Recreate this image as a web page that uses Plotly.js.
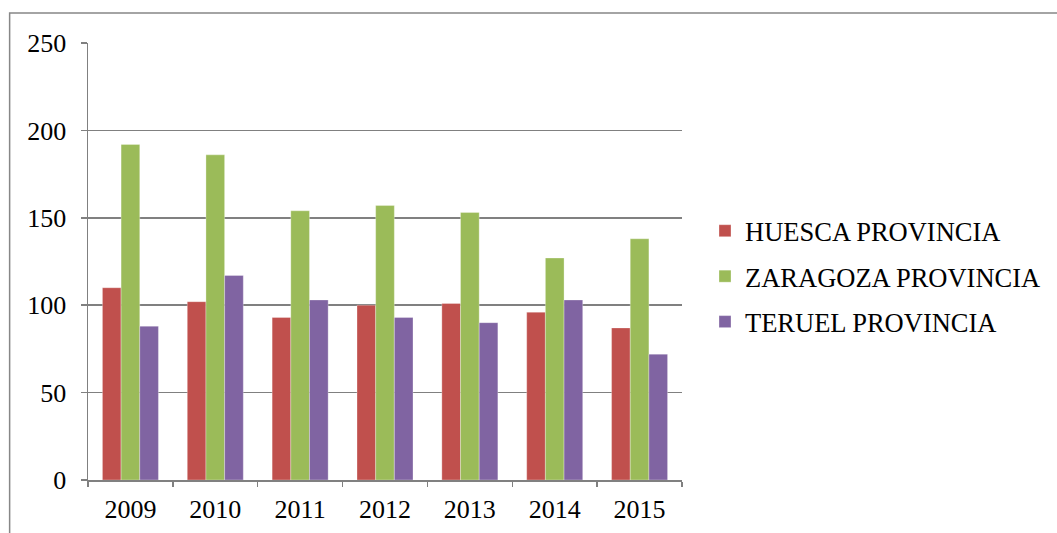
<!DOCTYPE html>
<html>
<head>
<meta charset="utf-8">
<script src="https://cdn.plot.ly/plotly-3.0.1.min.js"></script>
<style>html,body{margin:0;padding:0;background:#fff;}#chart{width:1057px;height:533px;}</style>
</head>
<body>
<div id="chart"></div>
<script>
const years = ['2009', '2010', '2011', '2012', '2013', '2014', '2015'];
const huesca = [110, 102, 93, 100, 101, 96, 87];
const zaragoza = [192, 186, 154, 157, 153, 127, 138];
const teruel = [88, 117, 103, 93, 90, 103, 72];
const seriesNames = ['HUESCA PROVINCIA', 'ZARAGOZA PROVINCIA', 'TERUEL PROVINCIA'];
const seriesColors = ['#C0504D', '#9BBB59', '#8064A2'];
const yTicks = [0, 50, 100, 150, 200, 250];

const W = 1057, H = 533;
const mL = 88, mR = 374, mT = 43, mB = 53;
const pw = W - mL - mR, ph = H - mT - mB;
const px = v => (v - mL) / pw;
const py = v => (H - mB - v) / ph;

const data = [huesca, zaragoza, teruel].map((vals, i) => ({
  type: 'bar',
  x: years,
  y: vals,
  name: seriesNames[i],
  legendgroup: 'g' + i,
  marker: {color: seriesColors[i], line: {color: 'rgba(255,255,255,0.6)', width: 0.5}},
  hoverinfo: 'x+y+name'
}));

const font = {family: '"Liberation Serif", "Times New Roman", serif', size: 26, color: '#000'};

const layout = {
  width: W, height: H,
  margin: {l: mL, r: mR, t: mT, b: mB, pad: 0},
  paper_bgcolor: '#fff', plot_bgcolor: '#fff',
  font: font,
  barmode: 'group',
  bargap: 0.34,
  bargroupgap: 0,
  showlegend: true,
  legend: {
    x: px(705), y: py(207), xanchor: 'left', yanchor: 'top',
    font: {family: font.family, size: 26.5, color: '#000'},
    tracegroupgap: 8, itemwidth: 30,
    bgcolor: 'rgba(0,0,0,0)'
  },
  xaxis: {
    type: 'category',
    tickson: 'boundaries',
    ticks: 'outside', ticklen: 5, tickcolor: '#808080', tickwidth: 1.5,
    showline: true, linecolor: '#808080', linewidth: 1.5,
    showgrid: false, zeroline: false,
    tickfont: font,
    ticklabelstandoff: 5
  },
  yaxis: {
    range: [0, 250],
    tickvals: yTicks,
    ticktext: yTicks.map(String),
    ticks: 'outside', ticklen: 6, tickcolor: '#808080', tickwidth: 1.5,
    showline: true, linecolor: '#808080', linewidth: 1.5,
    showgrid: true, gridcolor: '#808080', gridwidth: 1.6,
    zeroline: false,
    tickfont: font,
    ticklabelstandoff: 9
  },
  shapes: [{
    type: 'rect', xref: 'paper', yref: 'paper',
    x0: px(9.5), x1: px(1065), y0: py(545), y1: py(13),
    line: {color: '#878787', width: 1.5}, fillcolor: 'rgba(0,0,0,0)', layer: 'below'
  }]
};

Plotly.newPlot('chart', data, layout, {displayModeBar: false, staticPlot: true});
</script>
</body>
</html>
